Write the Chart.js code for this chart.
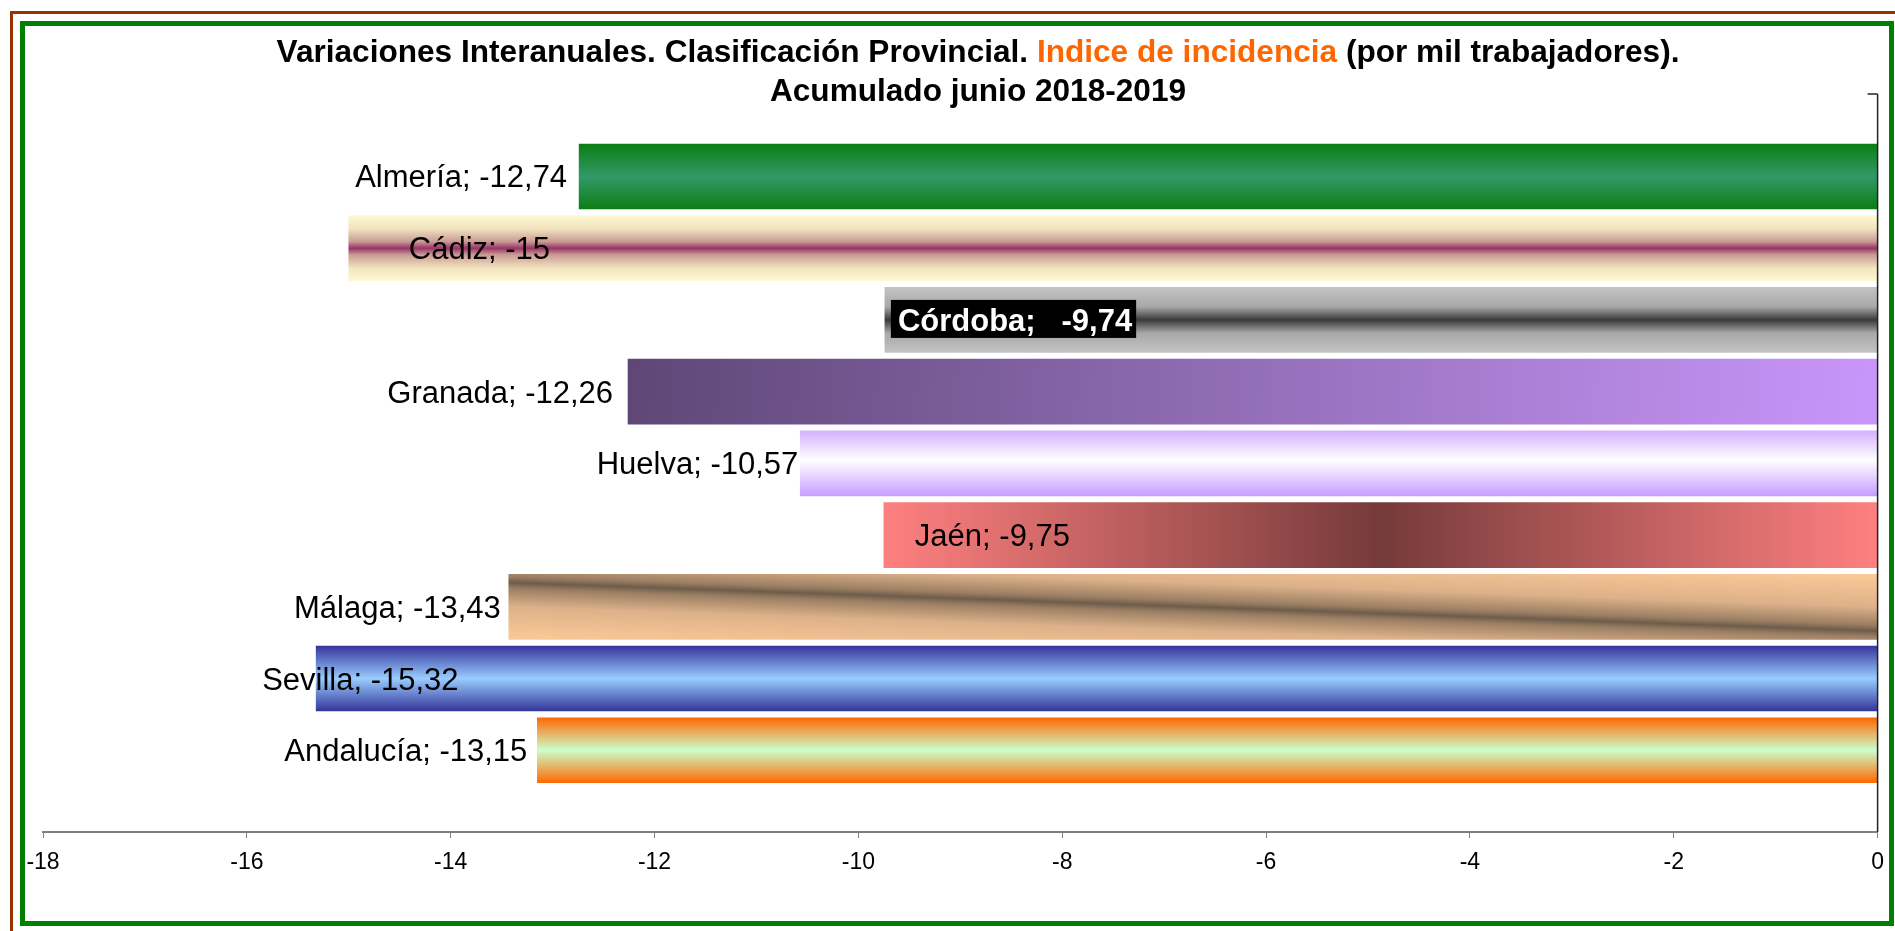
<!DOCTYPE html>
<html>
<head>
<meta charset="utf-8">
<script src="https://cdn.jsdelivr.net/npm/chart.js@4/dist/chart.umd.min.js"></script>
<style>
  html, body { margin: 0; padding: 0; background: #fff; overflow: hidden; }
  canvas { display: block; }
</style>
</head>
<body>
<canvas id="grafico" width="1895" height="931"></canvas>
<script>
// datos
const provincias = ['Almería', 'Cádiz', 'Córdoba', 'Granada', 'Huelva', 'Jaén', 'Málaga', 'Sevilla', 'Andalucía'];
const valores = [-12.74, -15, -9.74, -12.26, -10.57, -9.75, -13.43, -15.32, -13.15];
const ejeMin = -18;
const ejeMax = 0;
const ejePaso = 2;
const tituloLinea1 = [
  ['Variaciones Interanuales. Clasificación Provincial. ', '#000000'],
  ['Indice de incidencia', '#ff6600'],
  [' (por mil trabajadores).', '#000000']
];
const tituloLinea2 = 'Acumulado junio 2018-2019';

const FUENTE = 'Arial, "Liberation Sans", sans-serif';

// colocacion de las etiquetas (respecto al extremo de cada barra)
const etiquetas = [
  { dx: -12, align: 'right' },
  { dx: 60, align: 'left' },
  { dx: 13, align: 'left', caja: true },
  { dx: -15, align: 'right' },
  { dx: -2, align: 'right' },
  { dx: 31, align: 'left' },
  { dx: -8, align: 'right' },
  { dx: -54, align: 'left' },
  { dx: -10, align: 'right' }
];

// rango del eje de categorias (hueco arriba y abajo como en el original)
const yMin = -1.15;
const yMax = 9.14;

function fmt(v) {
  return String(v).replace('.', ',');
}

// rellenos degradados de cada barra
function relleno(c) {
  const chart = c.chart;
  const xs = chart.scales.x, ys = chart.scales.y;
  if (!xs || !ys || !chart.chartArea) return '#999999';
  const i = c.dataIndex;
  const ctx = chart.ctx;
  const xL = xs.getPixelForValue(valores[i]);
  const xR = xs.getPixelForValue(0);
  const yc = ys.getPixelForValue(i);
  const h = 33;
  let g;
  const vert = (stops) => {
    g = ctx.createLinearGradient(0, yc - h, 0, yc + h);
    stops.forEach(s => g.addColorStop(s[0], s[1]));
    return g;
  };
  switch (i) {
    case 0:
      return vert([[0, '#0b7d14'], [0.5, '#339966'], [1, '#0b7d14']]);
    case 1:
      return vert([[0, '#fff9d2'], [0.2, '#f2e4bf'], [0.4, '#c99b95'], [0.5, '#993366'], [0.6, '#c99b95'], [0.8, '#f2e4bf'], [1, '#fff9d2']]);
    case 2:
      return vert([[0, '#c4c4c4'], [0.3, '#a8a8a8'], [0.5, '#3a3a3a'], [0.7, '#a8a8a8'], [1, '#c4c4c4']]);
    case 3:
      g = ctx.createLinearGradient(xL, yc - h, xR, yc + h);
      g.addColorStop(0, '#5e4776');
      g.addColorStop(1, '#c996fb');
      return g;
    case 4:
      return vert([[0, '#d2b0ff'], [0.45, '#ffffff'], [1, '#c69cff']]);
    case 5:
      g = ctx.createLinearGradient(xL, 0, xR, 0);
      g.addColorStop(0, '#ff8080');
      g.addColorStop(0.5, '#763a3a');
      g.addColorStop(1, '#ff8080');
      return g;
    case 6: {
      const xm = (xL + xR) / 2;
      const nx = -0.0354, ny = 1, L = 60;
      g = ctx.createLinearGradient(xm - nx * L, yc - ny * L, xm + nx * L, yc + ny * L);
      g.addColorStop(0, '#ffcc99');
      g.addColorStop(0.3, '#ddb189');
      g.addColorStop(0.45, '#9b7f63');
      g.addColorStop(0.5, '#6e5c4a');
      g.addColorStop(0.55, '#9b7f63');
      g.addColorStop(0.7, '#ddb189');
      g.addColorStop(1, '#ffcc99');
      return g;
    }
    case 7:
      return vert([[0, '#333399'], [0.5, '#99ccff'], [1, '#333399']]);
    default:
      return vert([[0, '#ff6600'], [0.5, '#ccffcc'], [1, '#ff6600']]);
  }
}

// marcos, titulo, eje vertical y etiquetas
const dibujo = {
  id: 'dibujo',
  beforeDraw(chart) {
    const ctx = chart.ctx;
    ctx.save();
    ctx.fillStyle = '#ffffff';
    ctx.fillRect(0, 0, chart.width, chart.height);
    ctx.strokeStyle = '#993300';
    ctx.lineWidth = 3;
    ctx.strokeRect(11.5, 12.5, 2000, 2000);
    ctx.strokeStyle = '#008000';
    ctx.lineWidth = 5;
    ctx.strokeRect(22.5, 23.5, 1869, 900);

    // titulo
    ctx.font = 'bold 31.6px ' + FUENTE;
    ctx.textBaseline = 'alphabetic';
    ctx.textAlign = 'left';
    const cx = 978;
    let ancho = 0;
    tituloLinea1.forEach(p => { ancho += ctx.measureText(p[0]).width; });
    let x = cx - ancho / 2;
    tituloLinea1.forEach(p => {
      ctx.fillStyle = p[1];
      ctx.fillText(p[0], x, 62);
      x += ctx.measureText(p[0]).width;
    });
    ctx.fillStyle = '#000000';
    ctx.textAlign = 'center';
    ctx.fillText(tituloLinea2, cx, 100.5);
    ctx.restore();
  },
  afterDatasetsDraw(chart) {
    const ctx = chart.ctx;
    const area = chart.chartArea;
    const x0 = chart.scales.x.getPixelForValue(0);
    ctx.save();
    ctx.strokeStyle = '#222222';
    ctx.lineWidth = 1.5;
    ctx.beginPath();
    ctx.moveTo(x0, area.top);
    ctx.lineTo(x0, area.bottom);
    ctx.moveTo(x0 - 10, area.top);
    ctx.lineTo(x0, area.top);
    ctx.stroke();

    const meta = chart.getDatasetMeta(0);
    ctx.textBaseline = 'alphabetic';
    meta.data.forEach((el, i) => {
      const e = etiquetas[i];
      const bx = el.x;
      const by = el.y;
      if (e.caja) {
        ctx.font = 'bold 31px ' + FUENTE;
        const t = provincias[i] + ';   ' + fmt(valores[i]);
        const w = ctx.measureText(t).width;
        ctx.fillStyle = '#000000';
        ctx.fillRect(bx + e.dx - 7, by - 20, w + 11, 38);
        ctx.fillStyle = '#ffffff';
        ctx.textAlign = 'left';
        ctx.fillText(t, bx + e.dx, by + 11);
      } else {
        ctx.font = '31px ' + FUENTE;
        ctx.fillStyle = '#000000';
        ctx.textAlign = e.align;
        ctx.fillText(provincias[i] + '; ' + fmt(valores[i]), bx + e.dx, by + 11);
      }
    });
    ctx.restore();
  }
};

new Chart(document.getElementById('grafico').getContext('2d'), {
  type: 'bar',
  data: {
    datasets: [{
      data: valores.map((v, i) => ({ x: v, y: i })),
      backgroundColor: relleno,
      borderWidth: 0,
      barThickness: 65
    }]
  },
  options: {
    indexAxis: 'y',
    responsive: false,
    animation: false,
    layout: { padding: { top: 94, left: 43, right: 16, bottom: 0 } },
    plugins: {
      legend: { display: false },
      title: { display: false },
      tooltip: { enabled: false }
    },
    scales: {
      x: {
        type: 'linear',
        position: 'bottom',
        min: ejeMin,
        max: ejeMax,
        ticks: {
          stepSize: ejePaso,
          color: '#000000',
          padding: 11,
          font: { family: FUENTE, size: 23 }
        },
        grid: { drawOnChartArea: false, drawTicks: true, tickLength: 6, color: '#808080' },
        border: { display: true, color: '#808080', width: 2 },
        afterFit(scale) { scale.height = 99; }
      },
      y: {
        type: 'linear',
        reverse: true,
        bounds: 'data',
        offset: false,
        min: yMin,
        max: yMax,
        display: false,
        afterBuildTicks(scale) {
          scale.min = yMin;
          scale.max = yMax;
        }
      }
    }
  },
  plugins: [dibujo]
});
</script>
</body>
</html>
